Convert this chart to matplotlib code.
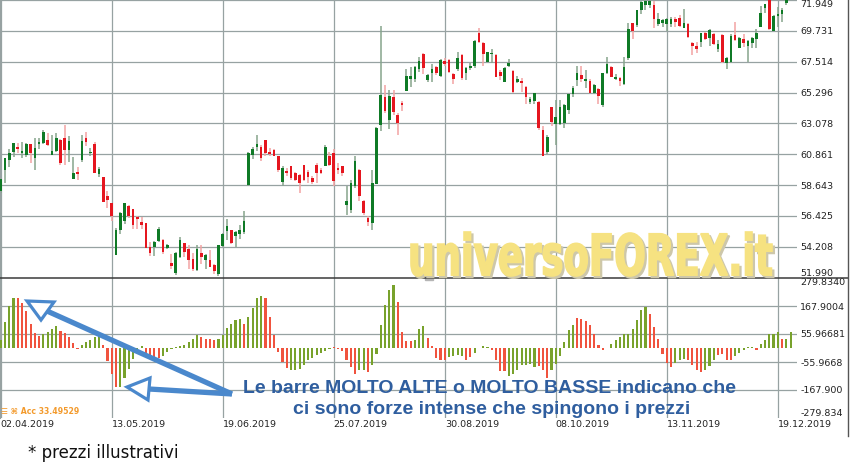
import numpy as np
import matplotlib
matplotlib.use("Agg")
import matplotlib.pyplot as plt
from matplotlib.lines import Line2D
from matplotlib.patches import Polygon, Rectangle, PathPatch
from matplotlib.textpath import TextPath
from matplotlib.font_manager import FontProperties
from matplotlib.transforms import Affine2D, IdentityTransform

W, H = 850, 462

# ---- price candles (daily) ----
opens = [
    58.21, 59.72, 60.44, 60.99, 61.40, 60.92, 60.80, 61.57, 60.56, 61.57,
    61.64, 61.88, 60.80, 61.11, 61.88, 62.00, 61.16, 59.07, 59.60, 60.44,
    62.00, 60.92, 61.57, 59.41, 59.24, 57.85, 57.33, 53.59, 55.41, 56.08,
    57.16, 56.90, 56.32, 55.96, 55.89, 54.21, 54.21, 54.62, 54.69, 54.14,
    53.01, 52.34, 53.49, 54.45, 54.02, 53.30, 52.53, 53.73, 53.25, 53.25,
    52.89, 52.24, 54.26, 55.30, 55.41, 54.98, 55.13, 55.29, 58.64, 60.80,
    61.40, 61.40, 61.89, 61.05, 61.17, 60.70, 58.83, 59.67, 59.98, 59.50,
    59.38, 60.10, 59.60, 59.14, 60.10, 59.69, 59.98, 60.70, 60.94, 59.86,
    59.98, 57.23, 56.82, 58.55, 59.74, 57.47, 56.27, 55.90, 58.74, 62.97,
    65.00, 63.32, 65.00, 63.68, 64.57, 65.43, 66.27, 66.27, 66.96, 68.10,
    66.20, 66.72, 67.15, 66.48, 67.56, 67.63, 66.62, 66.96, 67.99, 66.72,
    67.03, 67.22, 69.59, 68.87, 67.51, 68.06, 67.99, 66.79, 66.07, 67.20,
    66.86, 66.07, 66.12, 65.72, 64.64, 64.71, 64.64, 62.61, 61.00, 64.23,
    63.03, 63.03, 63.08, 64.04, 65.17, 66.19, 66.55, 66.15, 66.12, 65.28,
    65.55, 64.40, 66.72, 67.15, 66.24, 66.36, 65.90, 67.75, 70.26, 70.14,
    71.26, 71.57, 71.60, 71.59, 70.21, 70.33, 70.21, 70.21, 70.56, 70.68,
    69.97, 70.21, 68.83, 68.61, 68.94, 69.61, 69.25, 69.49, 68.42, 69.42,
    67.40, 67.50, 69.42, 68.47, 69.18, 68.61, 68.85, 69.14, 70.02, 71.35,
    72.00, 69.73, 70.80, 70.97, 71.75,
]
highs = [
    59.10, 60.60, 61.20, 61.64, 61.64, 61.76, 61.64, 61.60, 62.00, 62.00,
    62.60, 62.36, 62.24, 62.36, 61.93, 62.96, 62.17, 60.68, 59.96, 62.24,
    62.48, 61.28, 61.76, 59.96, 59.24, 58.21, 57.33, 55.53, 56.73, 57.33,
    57.20, 56.90, 56.41, 56.32, 55.89, 54.57, 54.60, 55.60, 54.74, 54.38,
    53.68, 53.85, 54.93, 54.50, 54.33, 53.73, 54.33, 54.33, 53.66, 53.97,
    52.94, 54.33, 55.17, 56.17, 55.41, 55.34, 55.77, 56.80, 60.99, 61.40,
    62.24, 61.50, 61.89, 61.29, 61.20, 60.75, 60.00, 59.90, 60.00, 59.60,
    59.40, 60.10, 59.70, 59.30, 60.20, 59.90, 61.50, 61.00, 61.20, 60.20,
    60.00, 58.55, 59.00, 60.70, 59.80, 57.60, 56.40, 59.74, 62.80, 70.07,
    65.83, 65.48, 65.50, 63.80, 64.70, 66.96, 67.15, 67.20, 67.87, 68.15,
    66.62, 67.34, 67.20, 67.68, 67.75, 67.68, 66.67, 68.18, 68.03, 67.15,
    67.44, 69.06, 69.90, 68.90, 68.22, 68.39, 68.03, 66.91, 67.15, 67.68,
    66.90, 66.48, 66.36, 65.77, 65.00, 65.29, 64.69, 62.90, 62.25, 64.23,
    64.76, 64.76, 64.50, 65.20, 65.77, 67.20, 67.20, 66.91, 66.24, 65.88,
    65.60, 66.72, 67.87, 67.20, 66.62, 66.43, 67.82, 70.26, 70.30, 71.26,
    71.90, 71.95, 71.95, 71.90, 71.04, 70.56, 70.68, 70.76, 70.76, 70.88,
    71.28, 70.26, 68.90, 68.94, 69.61, 69.68, 69.85, 69.54, 69.06, 69.49,
    67.82, 69.49, 70.40, 69.30, 69.49, 69.06, 69.30, 69.85, 71.52, 71.69,
    72.10, 70.85, 71.47, 71.40, 72.00,
]
lows = [
    58.10, 58.81, 59.96, 60.68, 60.92, 60.60, 60.68, 60.20, 59.72, 61.20,
    61.57, 61.45, 60.80, 61.04, 60.08, 60.08, 60.32, 59.07, 59.00, 60.27,
    61.45, 60.75, 59.48, 59.20, 57.40, 57.00, 56.06, 53.59, 55.10, 55.84,
    56.30, 55.45, 55.46, 55.46, 54.10, 53.56, 53.56, 54.57, 53.66, 54.02,
    52.58, 52.17, 53.37, 53.49, 52.63, 52.48, 52.48, 52.96, 52.63, 52.72,
    52.24, 52.12, 54.20, 54.70, 54.40, 54.21, 54.74, 55.13, 58.57, 60.49,
    61.11, 60.40, 60.70, 60.70, 60.70, 59.60, 58.60, 59.30, 59.00, 58.90,
    58.10, 58.90, 58.78, 58.70, 58.80, 59.40, 59.98, 60.00, 58.60, 59.40,
    59.30, 56.51, 56.60, 58.40, 57.50, 56.50, 55.70, 55.43, 58.70, 62.56,
    63.80, 62.66, 63.68, 62.25, 64.00, 65.43, 65.70, 66.07, 66.79, 66.62,
    66.07, 66.07, 66.55, 66.43, 67.20, 66.72, 65.88, 66.84, 66.19, 66.19,
    66.91, 67.08, 68.87, 67.20, 67.50, 67.39, 66.40, 66.19, 66.07, 67.15,
    65.28, 65.95, 65.36, 64.47, 64.47, 64.47, 62.61, 60.70, 60.90, 62.90,
    61.52, 62.97, 62.75, 63.73, 65.00, 65.77, 66.03, 65.60, 65.24, 65.17,
    64.47, 64.23, 66.60, 66.40, 66.19, 65.77, 65.83, 67.63, 69.11, 70.00,
    70.97, 71.26, 71.40, 69.97, 70.09, 70.04, 69.73, 70.00, 70.00, 70.00,
    69.97, 69.21, 67.99, 68.11, 68.59, 69.06, 68.61, 68.73, 68.23, 67.40,
    66.99, 67.45, 69.00, 68.47, 68.54, 67.47, 68.47, 68.47, 70.02, 71.04,
    69.78, 69.73, 70.02, 70.40, 71.60,
]
closes = [
    59.05, 60.56, 60.92, 61.64, 61.23, 61.11, 61.57, 60.92, 61.33, 61.76,
    62.48, 61.52, 61.11, 62.05, 60.25, 61.16, 61.81, 59.48, 59.41, 61.81,
    61.71, 61.04, 59.48, 59.77, 57.40, 57.56, 56.42, 55.41, 56.61, 57.33,
    56.44, 55.77, 56.17, 55.77, 54.14, 53.73, 54.57, 55.48, 53.85, 54.33,
    52.82, 53.78, 54.69, 53.85, 53.25, 52.58, 54.02, 53.49, 53.61, 52.77,
    52.48, 54.33, 55.10, 55.70, 54.50, 55.29, 55.41, 56.06, 60.92, 61.20,
    61.57, 60.60, 60.94, 60.89, 60.74, 59.74, 59.86, 59.50, 59.14, 59.02,
    58.80, 59.02, 59.20, 58.83, 59.50, 59.50, 61.41, 60.10, 58.90, 59.74,
    59.50, 57.47, 58.79, 60.34, 57.83, 56.63, 55.96, 58.79, 62.73, 65.12,
    63.97, 65.07, 63.92, 63.08, 64.40, 66.48, 66.48, 67.15, 67.56, 67.03,
    66.55, 66.98, 66.72, 67.63, 67.32, 66.79, 66.27, 67.75, 66.31, 67.03,
    67.22, 69.01, 68.94, 68.10, 68.18, 68.15, 66.43, 66.50, 67.03, 67.44,
    65.36, 66.27, 65.95, 64.95, 64.81, 65.24, 62.73, 60.75, 62.08, 63.20,
    63.56, 64.23, 64.40, 65.17, 65.65, 66.72, 66.27, 66.27, 65.28, 65.83,
    65.07, 66.67, 67.32, 66.43, 66.43, 66.12, 67.15, 69.83, 69.71, 71.21,
    71.80, 71.85, 71.85, 70.56, 70.56, 70.52, 70.56, 70.56, 70.40, 70.09,
    70.33, 69.30, 68.61, 68.42, 69.56, 69.14, 69.80, 68.78, 68.78, 67.47,
    67.75, 69.37, 69.06, 69.25, 68.83, 68.97, 69.25, 69.61, 71.04, 71.64,
    69.85, 70.80, 70.92, 71.21, 71.95,
]

# ---- accelerator oscillator histogram ----
acc_values = [
    32, 105, 168, 199, 199, 179, 149, 96, 59, 48,
    56, 63, 75, 88, 69, 59, 45, 21, -5, 11,
    24, 33, 45, 51, 11, -51, -105, -157, -155, -121,
    -85, -45, -16, 7, -18, -30, -38, -40, -32, -14,
    -4, 5, 8, 13, 24, 35, 51, 45, 36, 35,
    32, 35, 51, 80, 97, 113, 114, 97, 124, 160,
    200, 208, 200, 124, 51, -16, -56, -79, -87, -89,
    -85, -67, -49, -39, -29, -20, -11, -4, 3, -3,
    -12, -49, -76, -105, -89, -89, -96, -67, -23, 91,
    173, 231, 251, 184, 64, 27, 27, 33, 77, 87,
    40, 7, -39, -47, -47, -36, -33, -29, -33, -49,
    -35, -20, 0, 7, 3, -8, -47, -92, -92, -113,
    -103, -87, -69, -69, -63, -76, -73, -89, -119, -89,
    -65, -33, 24, 73, 91, 120, 117, 108, 91, 57,
    11, -9, 0, 17, 31, 44, 55, 57, 77, 111,
    151, 164, 137, 84, 37, -23, -60, -76, -60, -47,
    -43, -47, -69, -89, -96, -89, -73, -47, -29, -23,
    -49, -49, -33, -20, -9, 4, 4, -9, 15, 33,
    55, 55, 64, 37, 37, 64,
]
acc_dir = ("ggggrrrrrr" "ggggrrrrrg" "ggggrrrrgg" "ggggrrrrgg" "gggggggrrr"
           "rggggggrgg" "ggrrrrrrgg" "ggggggggrr" "rrrrggrggg" "gggrrrrggg"
           "rrrrrggggr" "rggggrrrrg" "ggggggrrrg" "gggggrrrrr" "rrgggggggg"
           "ggrrrrrrgg" "grrrrgggrr" "rrgggggrgg" "gggrgg")

price_ticks = [51.990, 54.208, 56.425, 58.643, 60.861, 63.078, 65.296, 67.514, 69.731, 71.949]
price_labels = ["51.990", "54.208", "56.425", "58.643", "60.861", "63.078", "65.296", "67.514", "69.731", "71.949"]
acc_ticks = [279.834, 167.9004, 55.96681, -55.9668, -167.900, -279.834]
acc_labels = ["279.8340", "167.9004", "55.96681", "-55.9668", "-167.900", "-279.834"]
date_idx = [0, 26, 52, 78, 104, 130, 156, 182]
date_labels = ["02.04.2019", "13.05.2019", "19.06.2019", "25.07.2019",
               "30.08.2019", "08.10.2019", "13.11.2019", "19.12.2019"]

GRID = "#97a2a2"
UP, DOWN = "#0f7a26", "#e5161f"
UP_W, DOWN_W = "#86a48c", "#f2a3a3"
AC_UP, AC_DOWN = "#78a22c", "#f0533e"
BLUE_TXT, BLUE_ARR = "#2f5e9f", "#4a88cc"


def fx(p):
    return p / W


def fy(p):
    return 1 - p / H


fig = plt.figure(figsize=(W / 100, H / 100), dpi=100)
fig.patch.set_facecolor("white")
ax1 = fig.add_axes([0, fy(278), fx(797), 278 / H])
ax2 = fig.add_axes([0, fy(418), fx(797), 140 / H])

o, h, l, c = map(np.array, (opens, highs, lows, closes))
x = np.arange(len(o))
up = c >= o
ax1.vlines(x, l, h, colors=np.where(up, UP_W, DOWN_W), lw=1.1, zorder=2)
ax1.bar(x, np.maximum(np.abs(c - o), 0.07), bottom=np.minimum(o, c), width=0.62,
        color=np.where(up, UP, DOWN), linewidth=0, zorder=3)

xa = np.arange(len(acc_values))
ax2.bar(xa, acc_values, width=0.5, linewidth=0, zorder=3,
        color=[AC_UP if d == "g" else AC_DOWN for d in acc_dir])

xlim = (-0.164, 186.49)
for ax in (ax1, ax2):
    ax.set_xlim(*xlim)
    ax.set_facecolor("white")
    for d in date_idx:
        ax.axvline(d, color=GRID, lw=0.9, zorder=0)
    for s in ("top", "right", "bottom"):
        ax.spines[s].set_visible(False)
    ax.spines["left"].set_color(GRID)
    ax.yaxis.tick_right()
    ax.tick_params(axis="y", length=0, pad=2.3, labelsize=6.8, labelcolor="#222222")

ax1.set_ylim(51.955, 71.935)
ax2.set_ylim(-279.834, 279.834)
for v in price_ticks[1:]:
    ax1.axhline(v, color=GRID, lw=0.9, zorder=0)
for v in acc_ticks[1:-1]:
    ax2.axhline(v, color=GRID, lw=0.9, zorder=0)

ax1.set_yticks(price_ticks, price_labels)
ax1.get_yticklabels()[0].set_va("bottom")
ax1.get_yticklabels()[-1].set_va("top")
ax1.set_xticks(date_idx)
ax1.tick_params(axis="x", length=0, labelbottom=False)

ax2.set_yticks(acc_ticks, acc_labels)
ax2.get_yticklabels()[0].set_va("top")
ax2.get_yticklabels()[-1].set_va("bottom")
ax2.set_xticks(date_idx, date_labels)
ax2.tick_params(axis="x", length=0, pad=1.5, labelsize=6.8, labelcolor="#222222")
for t in ax2.get_xticklabels():
    t.set_ha("left")

# frame lines
fig.add_artist(Line2D([0, fx(848)], [fy(278), fy(278)], color="#3a3a3a", lw=1.1))
fig.add_artist(Line2D([fx(848), fx(848)], [fy(0), fy(436)], color="#555555", lw=1.0))
fig.add_artist(Rectangle((fx(425), fy(280)), 8 / W, 4 / H, color="#b5b5b5",
                         transform=fig.transFigure))

# watermark
fp = FontProperties(family="DejaVu Sans", weight="bold")
tp = TextPath((0, 0), "universoFOREX.it", size=1, prop=fp)
ext = tp.get_extents()
sx, sy = (772 - 411) / ext.width, (276 - 232) / ext.height
for dx, dy, col in ((2.2, -2.2, "#cdc7aa"), (0, 0, "#f6e281")):
    tr = Affine2D().translate(-ext.x0, -ext.y0).scale(sx, sy).translate(411 + dx, H - 276 + dy)
    fig.add_artist(PathPatch(tr.transform_path(tp), facecolor=col, edgecolor=col, lw=1.2,
                             transform=IdentityTransform(), zorder=5))

# arrows
shafts = [((232, 394), (47, 311)), ((232, 394), (149, 389))]
heads = [[(27, 301), (54, 302), (41, 320)], [(127, 387), (150, 378), (148, 400)]]
for (p0, p1) in shafts:
    fig.add_artist(Line2D([fx(p0[0]), fx(p1[0])], [fy(p0[1]), fy(p1[1])],
                          color=BLUE_ARR, lw=3.8, solid_capstyle="butt", zorder=6))
for pts in heads:
    fig.add_artist(Polygon([(fx(a), fy(b)) for a, b in pts], closed=True,
                           facecolor="white", edgecolor=BLUE_ARR, lw=2.3,
                           transform=fig.transFigure, zorder=7))

fig.text(fx(490), fy(393), "Le barre MOLTO ALTE o MOLTO BASSE indicano che",
         ha="center", va="baseline", fontsize=14, fontweight="bold",
         family="Liberation Sans", color=BLUE_TXT, zorder=8)
fig.text(fx(492), fy(414.5), "ci sono forze intense che spingono i prezzi",
         ha="center", va="baseline", fontsize=14, fontweight="bold",
         family="Liberation Sans", color=BLUE_TXT, zorder=8)

fig.text(fx(1), fy(414), "☰ ⌘ Acc 33.49529", ha="left", va="baseline",
         fontsize=5.6, fontweight="bold", color="#f39a2c")
fig.text(fx(28), fy(457.5), "* prezzi illustrativi", ha="left", va="baseline",
         fontsize=12, color="#111111")

fig.savefig("out.png", dpi=100)
